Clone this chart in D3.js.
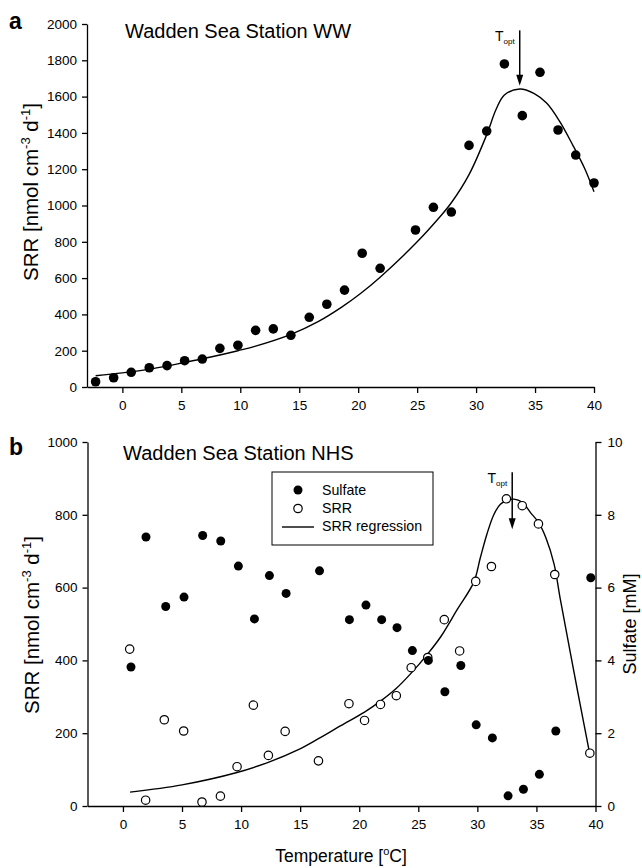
<!DOCTYPE html>
<html>
<head>
<meta charset="utf-8">
<script src="https://cdn.jsdelivr.net/npm/d3@7"></script>
<style>
  body { margin: 0; background: #fff; }
  svg { font-family: "Liberation Sans", Arial, sans-serif; }
</style>
</head>
<body>
<script>
// ---- panel a: Wadden Sea Station WW ----
var wwTemp = [-2.27, -0.74, 0.75, 2.28, 3.79, 5.28, 6.78, 8.27, 9.8, 11.3, 12.8, 14.29, 15.85, 17.34,
              18.84, 20.34, 21.86, 24.86, 26.38, 27.9, 29.4, 30.9, 32.4, 33.92, 35.42, 36.95, 38.45, 40.0];
var wwSRR  = [29, 51, 81, 106, 118, 145, 154, 213, 230, 312, 320, 285, 384, 456,
              534, 737, 654, 865, 990, 964, 1331, 1410, 1780, 1495, 1734, 1416, 1278, 1124];

// regression curve
var wwFitTemp = [-2.27, 0, 2.5, 5.28, 7.5, 9.8, 11.3, 14.3, 16.6, 18.6, 20.2, 21.86, 24.86, 26.9, 27.9,
                 29.4, 30.9, 31.7, 32.4, 33.7, 34.9, 36.0, 37.1, 38.2, 39.2, 40.0];
var wwFitSRR  = [62, 78, 100, 135, 165, 200, 225, 290, 360, 440, 515, 605, 790, 935, 1015,
                 1170, 1390, 1530, 1609, 1642, 1618, 1563, 1462, 1333, 1205, 1076];
var wwTopt = 33.7;

// ---- panel b: Wadden Sea Station NHS ----
var nhsSulfTemp = [0.68, 1.95, 3.62, 5.17, 6.75, 8.28, 9.77, 11.13, 12.4, 13.81, 16.64, 19.17, 20.57,
                   21.9, 23.2, 24.5, 25.85, 27.25, 28.6, 29.9, 31.27, 32.6, 33.9, 35.25, 36.64, 39.6];
var nhsSulfate  = [3.82, 7.39, 5.48, 5.74, 7.43, 7.28, 6.59, 5.14, 6.33, 5.84, 6.46, 5.12, 5.52,
                   5.12, 4.9, 4.27, 4.0, 3.14, 3.86, 2.23, 1.87, 0.28, 0.46, 0.87, 2.06, 6.27];

var nhsSrrTemp = [0.57, 1.92, 3.5, 5.14, 6.69, 8.25, 9.66, 11.04, 12.31, 13.73, 16.55, 19.13, 20.45,
                  21.8, 23.14, 24.4, 25.8, 27.2, 28.5, 29.86, 31.19, 32.46, 33.8, 35.17, 36.55, 39.52];
var nhsSRR     = [431, 16, 237, 206, 11, 27, 108, 277, 139, 205, 124, 281, 235,
                  279, 303, 380, 408, 512, 426, 617, 658, 844, 825, 775, 636, 145];

var nhsFitTemp = [0.6, 5.0, 9.65, 12.3, 14.85, 16.55, 18.4, 20.45, 21.8, 23.1, 24.4, 25.8, 26.9, 28.3,
                  29.7, 30.25, 30.8, 31.4, 31.95, 32.5, 33.1, 33.8, 34.5, 35.2, 35.8, 36.5, 37.0,
                  37.9, 38.7, 39.5];
var nhsFitSRR  = [38, 58, 92, 120, 155, 185, 220, 258, 288, 322, 365, 418, 465, 540,
                  615, 682, 746, 801, 829, 840, 843, 834, 806, 778, 737, 664, 572,
                  416, 279, 145];
var nhsTopt = 32.95;

var xTicks = [0, 5, 10, 15, 20, 25, 30, 35, 40];
var yTicksA = [0, 200, 400, 600, 800, 1000, 1200, 1400, 1600, 1800, 2000];
var yTicksB = [0, 200, 400, 600, 800, 1000];
var sulfTicks = [0, 2, 4, 6, 8, 10];

var width = 642, height = 868;

var svg = d3.select("body").append("svg")
            .attr("width", width)
            .attr("height", height);

function styleAxis(g) {
  g.attr("font-size", 13.5).attr("font-family", null);
  g.selectAll("path, line").attr("stroke", "#000").attr("stroke-width", 1.3);
  g.selectAll("text").attr("fill", "#000");
}

function pairs(xs, ys) {
  return xs.map(function(d, i) { return [d, ys[i]]; });
}

function srrLabel(x, y) {
  var t = svg.append("text")
    .attr("transform", "translate(" + x + "," + y + ") rotate(-90)")
    .attr("text-anchor", "middle")
    .attr("font-size", 20.5);
  t.append("tspan").text("SRR [nmol cm");
  t.append("tspan").attr("font-size", 13).attr("dy", -8).text("-3");
  t.append("tspan").attr("dy", 8).text(" d");
  t.append("tspan").attr("font-size", 13).attr("dy", -8).text("-1");
  t.append("tspan").attr("dy", 8).text("]");
}

function toptArrow(xp, y1, y2) {
  svg.append("line")
    .attr("x1", xp).attr("x2", xp)
    .attr("y1", y1).attr("y2", y2 - 8)
    .attr("stroke", "#000").attr("stroke-width", 1.5);
  svg.append("path")
    .attr("d", "M" + (xp - 3.5) + "," + (y2 - 11) + "L" + (xp + 3.5) + "," + (y2 - 11) + "L" + xp + "," + y2 + "Z")
    .attr("fill", "#000");
  var t = svg.append("text")
    .attr("x", xp - 5)
    .attr("y", y1 + 11)
    .attr("text-anchor", "end")
    .attr("font-size", 14);
  t.append("tspan").text("T");
  t.append("tspan").attr("font-size", 8).attr("dy", 3).text("opt");
}

var fmt = d3.format("d");

// ================= panel a =================
var xA = d3.scaleLinear().domain([-3, 40]).range([87, 594]);
var yA = d3.scaleLinear().domain([0, 2000]).range([387, 24]);

svg.append("g")
   .attr("transform", "translate(0," + yA(0) + ")")
   .call(d3.axisBottom(xA).tickValues(xTicks).tickFormat(fmt).tickSize(6).tickSizeOuter(0).tickPadding(7))
   .call(styleAxis);

svg.append("g")
   .attr("transform", "translate(" + xA(-3) + ",0)")
   .call(d3.axisLeft(yA).tickValues(yTicksA).tickFormat(fmt).tickSize(5).tickSizeOuter(0).tickPadding(5))
   .call(styleAxis);

var lineA = d3.line()
  .x(function(d) { return xA(d[0]); })
  .y(function(d) { return yA(d[1]); })
  .curve(d3.curveCatmullRom.alpha(0.5));

svg.append("path")
   .datum(pairs(wwFitTemp, wwFitSRR))
   .attr("d", lineA)
   .attr("fill", "none")
   .attr("stroke", "#000")
   .attr("stroke-width", 1.4);

svg.append("g").selectAll("circle")
   .data(pairs(wwTemp, wwSRR))
   .enter()
   .append("circle")
   .attr("cx", function(d) { return xA(d[0]); })
   .attr("cy", function(d) { return yA(d[1]); })
   .attr("r", 4.8)
   .attr("fill", "#000");

toptArrow(xA(wwTopt), yA(1965), yA(1660));

svg.append("text")
   .attr("x", 125).attr("y", 38)
   .attr("font-size", 20)
   .text("Wadden Sea Station WW");

svg.append("text")
   .attr("x", 9).attr("y", 29)
   .attr("font-size", 23).attr("font-weight", "bold")
   .text("a");

srrLabel(38, 192);

// ================= panel b =================
var xB = d3.scaleLinear().domain([-3, 40]).range([87.5, 595.5]);
var yB = d3.scaleLinear().domain([0, 1000]).range([806, 442]);
var yS = d3.scaleLinear().domain([0, 10]).range([806, 442]);

svg.append("g")
   .attr("transform", "translate(0," + yB(0) + ")")
   .call(d3.axisBottom(xB).tickValues(xTicks).tickFormat(fmt).tickSize(6).tickSizeOuter(0).tickPadding(7))
   .call(styleAxis);

svg.append("g")
   .attr("transform", "translate(" + xB(-3) + ",0)")
   .call(d3.axisLeft(yB).tickValues(yTicksB).tickFormat(fmt).tickSize(5).tickSizeOuter(0).tickPadding(5))
   .call(styleAxis);

svg.append("g")
   .attr("transform", "translate(" + xB(40) + ",0)")
   .call(d3.axisRight(yS).tickValues(sulfTicks).tickFormat(fmt).tickSize(6).tickSizeOuter(0).tickPadding(6))
   .call(styleAxis);

var lineB = d3.line()
  .x(function(d) { return xB(d[0]); })
  .y(function(d) { return yB(d[1]); })
  .curve(d3.curveCatmullRom.alpha(0.5));

svg.append("path")
   .datum(pairs(nhsFitTemp, nhsFitSRR))
   .attr("d", lineB)
   .attr("fill", "none")
   .attr("stroke", "#000")
   .attr("stroke-width", 1.4);

svg.append("g").selectAll("circle")
   .data(pairs(nhsSrrTemp, nhsSRR))
   .enter()
   .append("circle")
   .attr("cx", function(d) { return xB(d[0]); })
   .attr("cy", function(d) { return yB(d[1]); })
   .attr("r", 4.2)
   .attr("fill", "#fff")
   .attr("stroke", "#000")
   .attr("stroke-width", 1.2);

svg.append("g").selectAll("circle")
   .data(pairs(nhsSulfTemp, nhsSulfate))
   .enter()
   .append("circle")
   .attr("cx", function(d) { return xB(d[0]); })
   .attr("cy", function(d) { return yS(d[1]); })
   .attr("r", 4.5)
   .attr("fill", "#000");

toptArrow(xB(nhsTopt), yB(917), yB(760));

// legend
var leg = svg.append("g").attr("transform", "translate(272,472)");
leg.append("rect")
   .attr("width", 161).attr("height", 73)
   .attr("fill", "#fff").attr("stroke", "#000").attr("stroke-width", 1);
leg.append("circle").attr("cx", 26).attr("cy", 18).attr("r", 4.5).attr("fill", "#000");
leg.append("circle").attr("cx", 26).attr("cy", 36.5).attr("r", 4.2)
   .attr("fill", "#fff").attr("stroke", "#000").attr("stroke-width", 1.2);
leg.append("line").attr("x1", 10).attr("x2", 42).attr("y1", 55).attr("y2", 55)
   .attr("stroke", "#000").attr("stroke-width", 1.4);
var legText = ["Sulfate", "SRR", "SRR regression"];
leg.selectAll("text.lt")
   .data(legText)
   .enter()
   .append("text")
   .attr("class", "lt")
   .attr("x", 50)
   .attr("y", function(d, i) { return 23 + i * 17.8; })
   .attr("font-size", 14.2)
   .text(function(d) { return d; });

svg.append("text")
   .attr("x", 123).attr("y", 460)
   .attr("font-size", 20)
   .text("Wadden Sea Station NHS");

svg.append("text")
   .attr("x", 9).attr("y", 455)
   .attr("font-size", 23).attr("font-weight", "bold")
   .text("b");

srrLabel(39, 625);

svg.append("text")
   .attr("transform", "translate(636,624) rotate(-90)")
   .attr("text-anchor", "middle")
   .attr("font-size", 18)
   .text("Sulfate [mM]");

var tl = svg.append("text")
   .attr("x", 341).attr("y", 862)
   .attr("text-anchor", "middle")
   .attr("font-size", 17.5);
tl.append("tspan").text("Temperature [");
tl.append("tspan").attr("font-size", 11).attr("dy", -7).text("o");
tl.append("tspan").attr("dy", 7).text("C]");
</script>
</body>
</html>
